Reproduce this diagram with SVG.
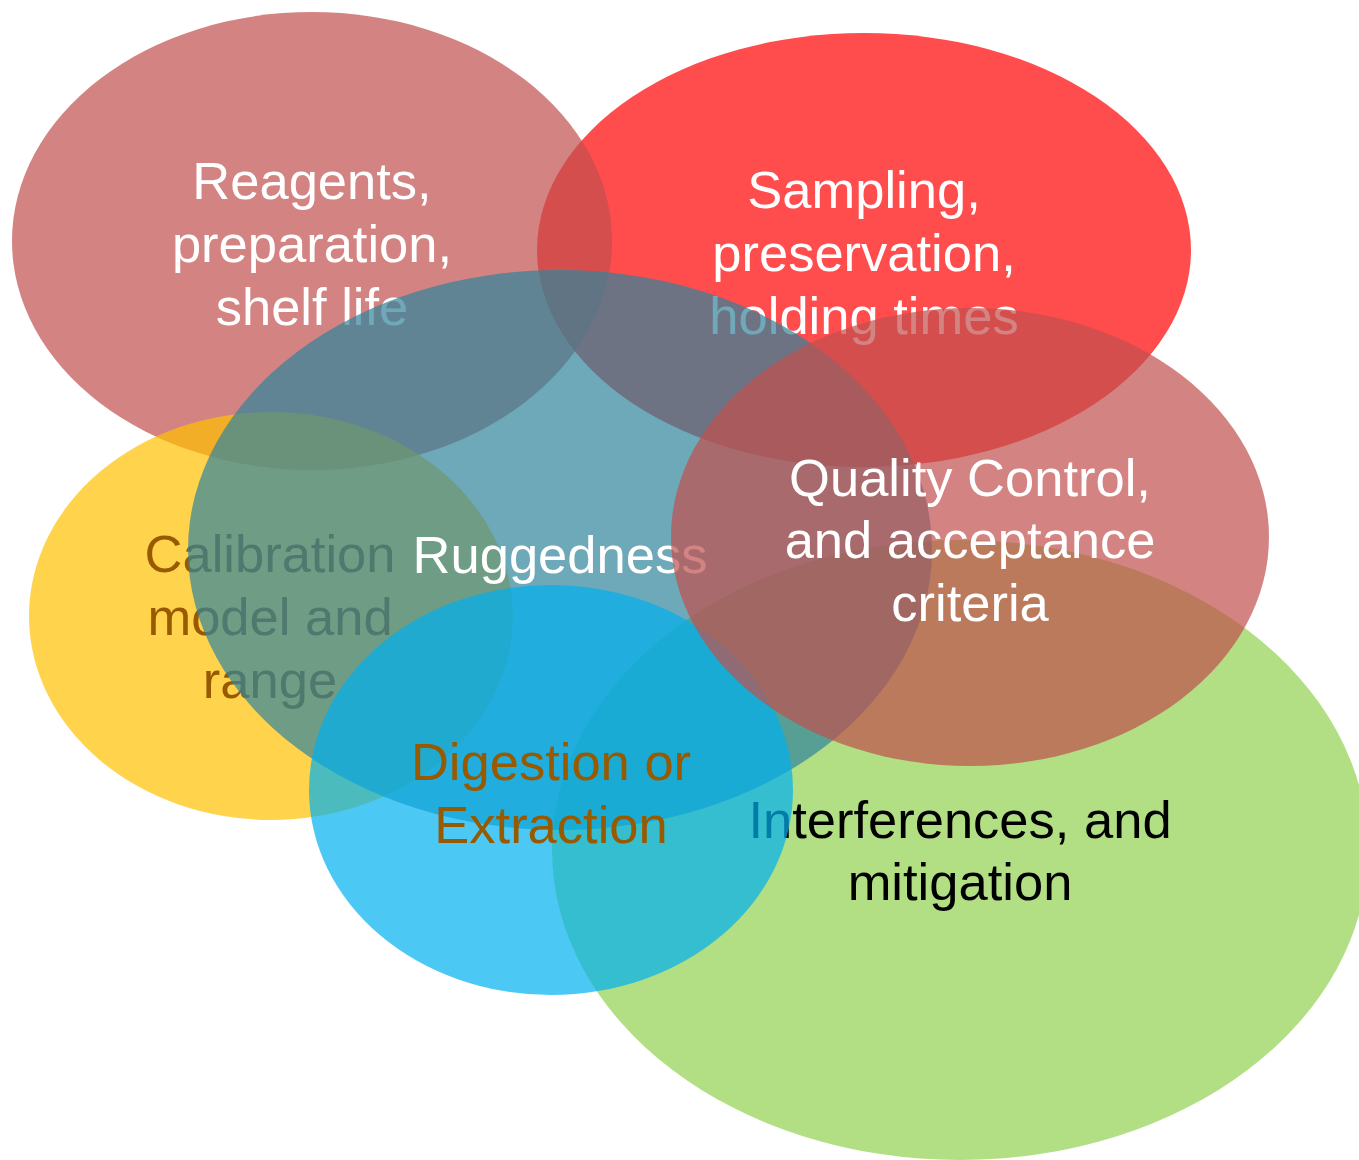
<svg xmlns="http://www.w3.org/2000/svg" width="1359" height="1160" viewBox="0 0 1359 1160">
<style>
.shape{fill-opacity:0.7;stroke:none}
.lbl{font-family:"Liberation Sans",Arial,sans-serif;font-size:52.5px;text-anchor:middle}
.w{fill:#ffffff}
.b{fill:#985A00}
.k{fill:#000000}
</style>
<rect width="1359" height="1160" fill="#ffffff"/>
<g id="sampling">
<ellipse class="shape" cx="864" cy="250" rx="327" ry="217" fill="#FF0000"/>
<text class="lbl w" x="864" y="208">Sampling,</text>
<text class="lbl w" x="864" y="271">preservation,</text>
<text class="lbl w" x="864" y="334">holding times</text>
</g>
<g id="reagents">
<ellipse class="shape" cx="312" cy="241" rx="300" ry="229" fill="#C0504D"/>
<text class="lbl w" x="312" y="198.5">Reagents,</text>
<text class="lbl w" x="312" y="261.5">preparation,</text>
<text class="lbl w" x="312" y="324.5">shelf life</text>
</g>
<g id="calibration">
<ellipse class="shape" cx="271" cy="616" rx="242" ry="204" fill="#FFC000"/>
<text class="lbl b" x="270" y="572">Calibration</text>
<text class="lbl b" x="270" y="635">model and</text>
<text class="lbl b" x="270" y="698">range</text>
</g>
<g id="interferences">
<ellipse class="shape" cx="960" cy="850" rx="408" ry="310" fill="#92D050"/>
<text class="lbl k" x="960" y="837.5">Interferences, and</text>
<text class="lbl k" x="960" y="899.5">mitigation</text>
</g>
<g id="ruggedness">
<ellipse class="shape" cx="560" cy="550" rx="372" ry="280" fill="#31859C"/>
<text class="lbl w" x="560" y="573">Ruggedness</text>
</g>
<g id="digestion">
<ellipse class="shape" cx="551" cy="790" rx="242" ry="205" fill="#00B0F0"/>
<text class="lbl b" x="551" y="779.5">Digestion or</text>
<text class="lbl b" x="551" y="842.5">Extraction</text>
</g>
<g id="quality-control">
<ellipse class="shape" cx="970" cy="537" rx="299" ry="229" fill="#C0504D"/>
<text class="lbl w" x="970" y="495.5">Quality Control,</text>
<text class="lbl w" x="970" y="557.5">and acceptance</text>
<text class="lbl w" x="970" y="620.5">criteria</text>
</g>
</svg>
